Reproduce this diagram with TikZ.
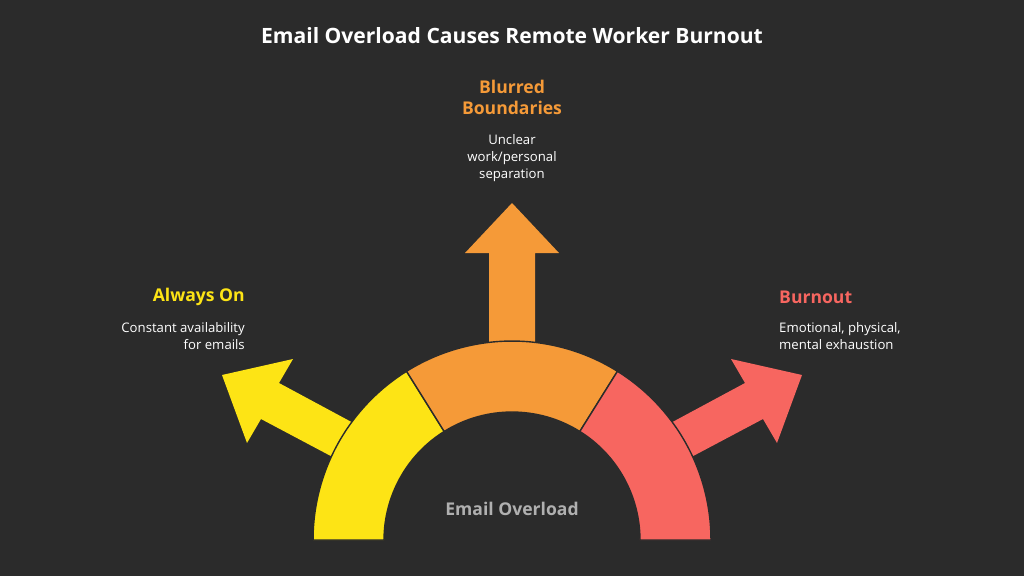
\documentclass[tikz,border=0pt]{standalone}
\usepackage{fontspec}
\setmainfont{Open Sans}
\usetikzlibrary{calc}
\definecolor{bgdark}{HTML}{2B2B2B}
\definecolor{alwaysyellow}{HTML}{FDE415}
\definecolor{blurorange}{HTML}{F59A38}
\definecolor{burnred}{HTML}{F76660}
\definecolor{centergray}{HTML}{B0B0B0}
\begin{document}
\begin{tikzpicture}[x=0.02cm, y=0.02cm,
    mytitle/.style={font=\fontsize{12}{14}\selectfont\bfseries, text=white},
    heading/.style={font=\fontsize{10}{12}\selectfont\bfseries, align=center},
    desc/.style={font=\fontsize{7.5}{9.5}\selectfont, text=white},
    seg/.style={draw=bgdark, line width=0.8pt},
]
    % Background
    \fill[bgdark] (0,0) rectangle (1024,576);
    \useasboundingbox (0,0) rectangle (1024,576);

    % Arrows
    \fill[alwaysyellow] (222,201) -- (293,217) -- (279,193) -- (411,122)
        -- (393,87) -- (261,157) -- (247,133) -- cycle;
    \fill[blurorange] (512,373) -- (559,323) -- (535,323) -- (535,200)
        -- (489,200) -- (489,323) -- (465,323) -- cycle;
    \fill[burnred] (802,201) -- (731,217) -- (745,193) -- (613,122)
        -- (631,87) -- (763,157) -- (777,133) -- cycle;

    % Ring segments
    \coordinate (ctr) at (512,36);
    \filldraw[seg, fill=alwaysyellow] ($(ctr)+(180:3.98cm)$) arc[start angle=180, end angle=122, radius=3.98cm]
        -- ($(ctr)+(122:2.56cm)$) arc[start angle=122, end angle=180, radius=2.56cm] -- cycle;
    \filldraw[seg, fill=blurorange] ($(ctr)+(122:3.98cm)$) arc[start angle=122, end angle=58, radius=3.98cm]
        -- ($(ctr)+(58:2.56cm)$) arc[start angle=58, end angle=122, radius=2.56cm] -- cycle;
    \filldraw[seg, fill=burnred] ($(ctr)+(58:3.98cm)$) arc[start angle=58, end angle=0, radius=3.98cm]
        -- ($(ctr)+(0:2.56cm)$) arc[start angle=0, end angle=58, radius=2.56cm] -- cycle;

    % Texts
    \node[mytitle] (title) at (512,540) {Email Overload Causes Remote Worker Burnout};
    \node[heading, text=blurorange] (blurhead) at (512,479) {Blurred\\Boundaries};
    \node[desc, align=center] (blurdesc) at (512,418) {Unclear\\work/personal\\separation};
    \node[heading, text=alwaysyellow, anchor=east] (alwayshead) at (251,279) {Always On};
    \node[desc, align=right, anchor=east] (alwaysdesc) at (251,240) {Constant availability\\for emails};
    \node[heading, text=burnred, anchor=west] (burnhead) at (773,279) {Burnout};
    \node[desc, align=left, anchor=west] (burndesc) at (773,240) {Emotional, physical,\\mental exhaustion};
    \node[heading, text=centergray] (center) at (512,67) {Email Overload};
\end{tikzpicture}
\end{document}
